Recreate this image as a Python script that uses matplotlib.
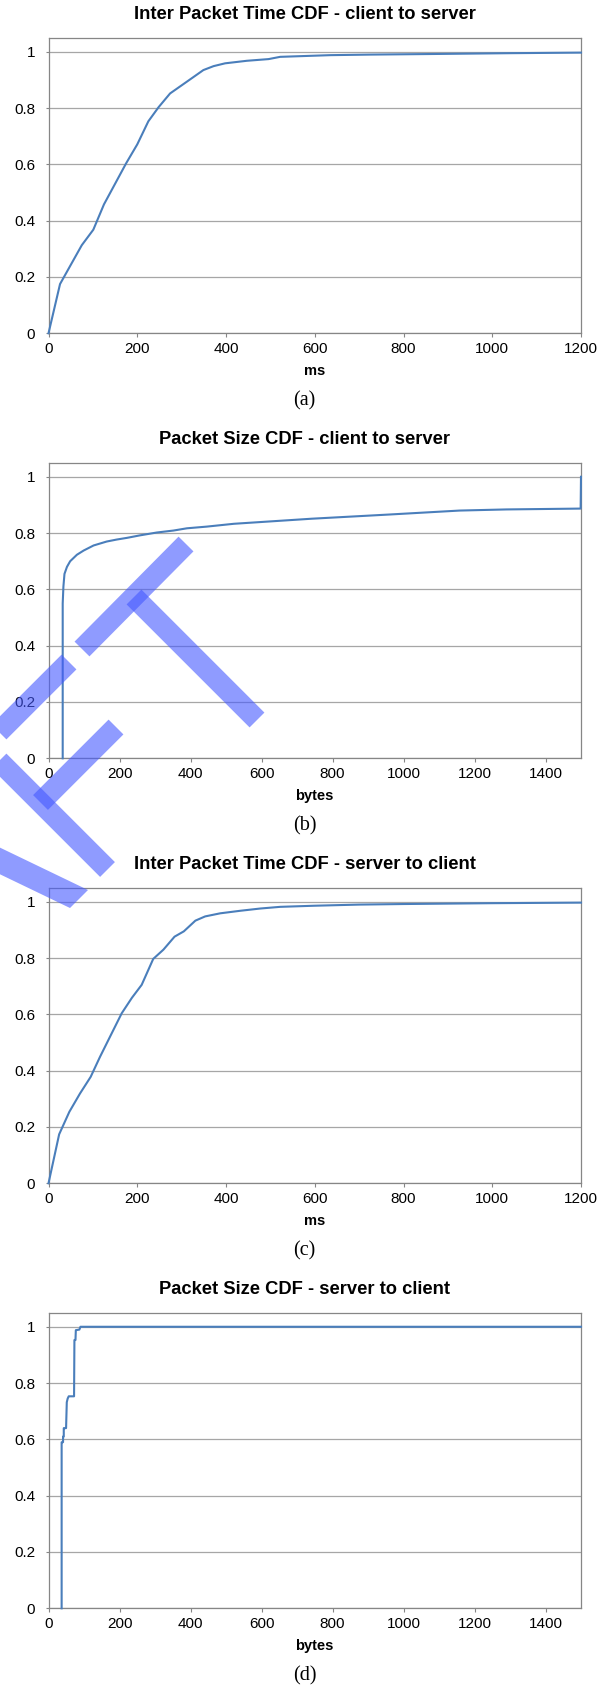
import numpy as np
import matplotlib.pyplot as plt
from matplotlib.lines import Line2D
from matplotlib.patches import Polygon
import matplotlib.ticker as mtick

plt.rcParams['font.family'] = ['Liberation Sans', 'DejaVu Sans']

# (a) inter packet time CDF, client -> server
ipt_cs_ms = [0, 26, 75, 101, 125, 150, 175, 200, 225, 248, 274, 312, 349, 372, 398,
             447, 496, 522, 635, 725, 860, 1040, 1200]
ipt_cs_cdf = [0, 0.175, 0.313, 0.368, 0.458, 0.531, 0.604, 0.671, 0.753, 0.803, 0.852,
              0.894, 0.935, 0.949, 0.959, 0.968, 0.974, 0.982, 0.988, 0.990, 0.992, 0.995, 0.997]

# (b) packet size CDF, client -> server
size_cs_bytes = [40, 40, 41, 42, 45, 52, 61, 80, 99, 127, 164, 192, 221, 258, 305, 352,
                 390, 446, 522, 741, 961, 1158, 1290, 1499, 1500]
size_cs_cdf = [0, 0.55, 0.58, 0.61, 0.655, 0.68, 0.70, 0.723, 0.738, 0.756, 0.77, 0.777,
               0.783, 0.792, 0.802, 0.809, 0.817, 0.823, 0.833, 0.851, 0.866, 0.880, 0.884,
               0.887, 1.0]

# (c) inter packet time CDF, server -> client
ipt_sc_ms = [0, 24, 47, 71, 95, 116, 140, 165, 188, 210, 236, 259, 284, 305, 331, 353,
             387, 432, 477, 522, 600, 700, 800, 1000, 1200]
ipt_sc_cdf = [0, 0.174, 0.254, 0.319, 0.378, 0.449, 0.525, 0.604, 0.659, 0.705, 0.797,
              0.830, 0.876, 0.895, 0.933, 0.948, 0.959, 0.968, 0.976, 0.982, 0.986, 0.990,
              0.992, 0.995, 0.997]

# (d) packet size CDF, server -> client
size_sc_bytes = [37, 37, 41, 41, 43, 43, 47, 49.5, 51.5, 54, 57, 72, 73, 76, 77, 87, 90, 1500]
size_sc_cdf = [0, 0.59, 0.59, 0.61, 0.61, 0.64, 0.64, 0.64, 0.732, 0.745, 0.753, 0.753,
               0.953, 0.953, 0.988, 0.99, 1.0, 1.0]

titles = ['Inter Packet Time CDF - client to server',
          'Packet Size CDF - client to server',
          'Inter Packet Time CDF - server to client',
          'Packet Size CDF - server to client']
xlabels = ['ms', 'bytes', 'ms', 'bytes']
captions = ['(a)', '(b)', '(c)', '(d)']
xmax = [1200, 1500, 1200, 1500]
yticks = [0, 0.2, 0.4, 0.6, 0.8, 1]

# pieces of a diagonal "DRAFT" watermark, pixel coords (x right, y down)
wm_strokes = [
    [(82, 649), (186, 544)],                  # T bar
    [(134, 597), (257, 720)],                 # T stem
    [(69, 662), (-15.5, 746.5), (107.5, 869.5)],  # F top bar + stem
    [(40.5, 802.5), (116, 727)],              # F middle bar
]
wm_leg = [(88, 890), (70, 908), (-38, 856), (-20, 838)]   # A right leg

W, H = 609, 1686
fig = plt.figure(figsize=(W / 100, H / 100), dpi=100)

panels = [(ipt_cs_ms, ipt_cs_cdf), (size_cs_bytes, size_cs_cdf),
          (ipt_sc_ms, ipt_sc_cdf), (size_sc_bytes, size_sc_cdf)]

left_px, right_px = 48.5, 581
first_bottom, pitch, ax_h = 333.3, 425, 295.6
edge = '#868686'

for i, (xs, ys) in enumerate(panels):
    bottom_px = first_bottom + i * pitch
    top_px = bottom_px - ax_h
    ax = fig.add_axes([left_px / W, 1 - bottom_px / H, (right_px - left_px) / W, ax_h / H])
    ax.plot(xs, ys, color='#4a7ebb', lw=1.5, zorder=3, clip_on=False)
    ax.set_xlim(0, xmax[i])
    ax.set_ylim(0, 1.05)
    ax.set_xticks(np.arange(0, xmax[i] + 1, 200))
    ax.set_yticks(yticks)
    ax.yaxis.set_major_formatter(mtick.FuncFormatter(lambda v, _: f"{v:g}"))
    ax.yaxis.grid(True, color='#a6a6a6', lw=0.9)
    ax.set_axisbelow(True)
    for s in ax.spines.values():
        s.set_color(edge)
        s.set_linewidth(0.9)
    ax.tick_params(axis='x', direction='out', length=3, width=0.8, color=edge,
                   labelsize=11, pad=3.5)
    ax.tick_params(axis='y', direction='out', length=2.5, width=0.8, color=edge,
                   labelsize=11, pad=7)

    fig.text(0.5, 1 - (top_px - 23) / H, titles[i], ha='center', va='center',
             fontsize=13.2, fontweight='bold')
    fig.text((left_px + right_px) / 2 / W, 1 - (bottom_px + 37.5) / H, xlabels[i],
             ha='center', va='center', fontsize=10.5, fontweight='bold')
    fig.text(0.5, 1 - (bottom_px + 68) / H, captions[i], ha='center', va='center',
             fontsize=14.5, family=['Liberation Serif', 'DejaVu Serif'])

wm_color = (0.27, 0.35, 1.0)
for pts in wm_strokes:
    px = [p[0] / W for p in pts]
    py = [1 - p[1] / H for p in pts]
    fig.add_artist(Line2D(px, py, transform=fig.transFigure, lw=15.1,
                          color=wm_color, alpha=0.6,
                          solid_capstyle='butt', solid_joinstyle='miter', zorder=10))
fig.add_artist(Polygon([(p[0] / W, 1 - p[1] / H) for p in wm_leg], closed=True,
                       transform=fig.transFigure, facecolor=wm_color, edgecolor='none',
                       alpha=0.6, zorder=10))

fig.savefig('out.png', dpi=100)
